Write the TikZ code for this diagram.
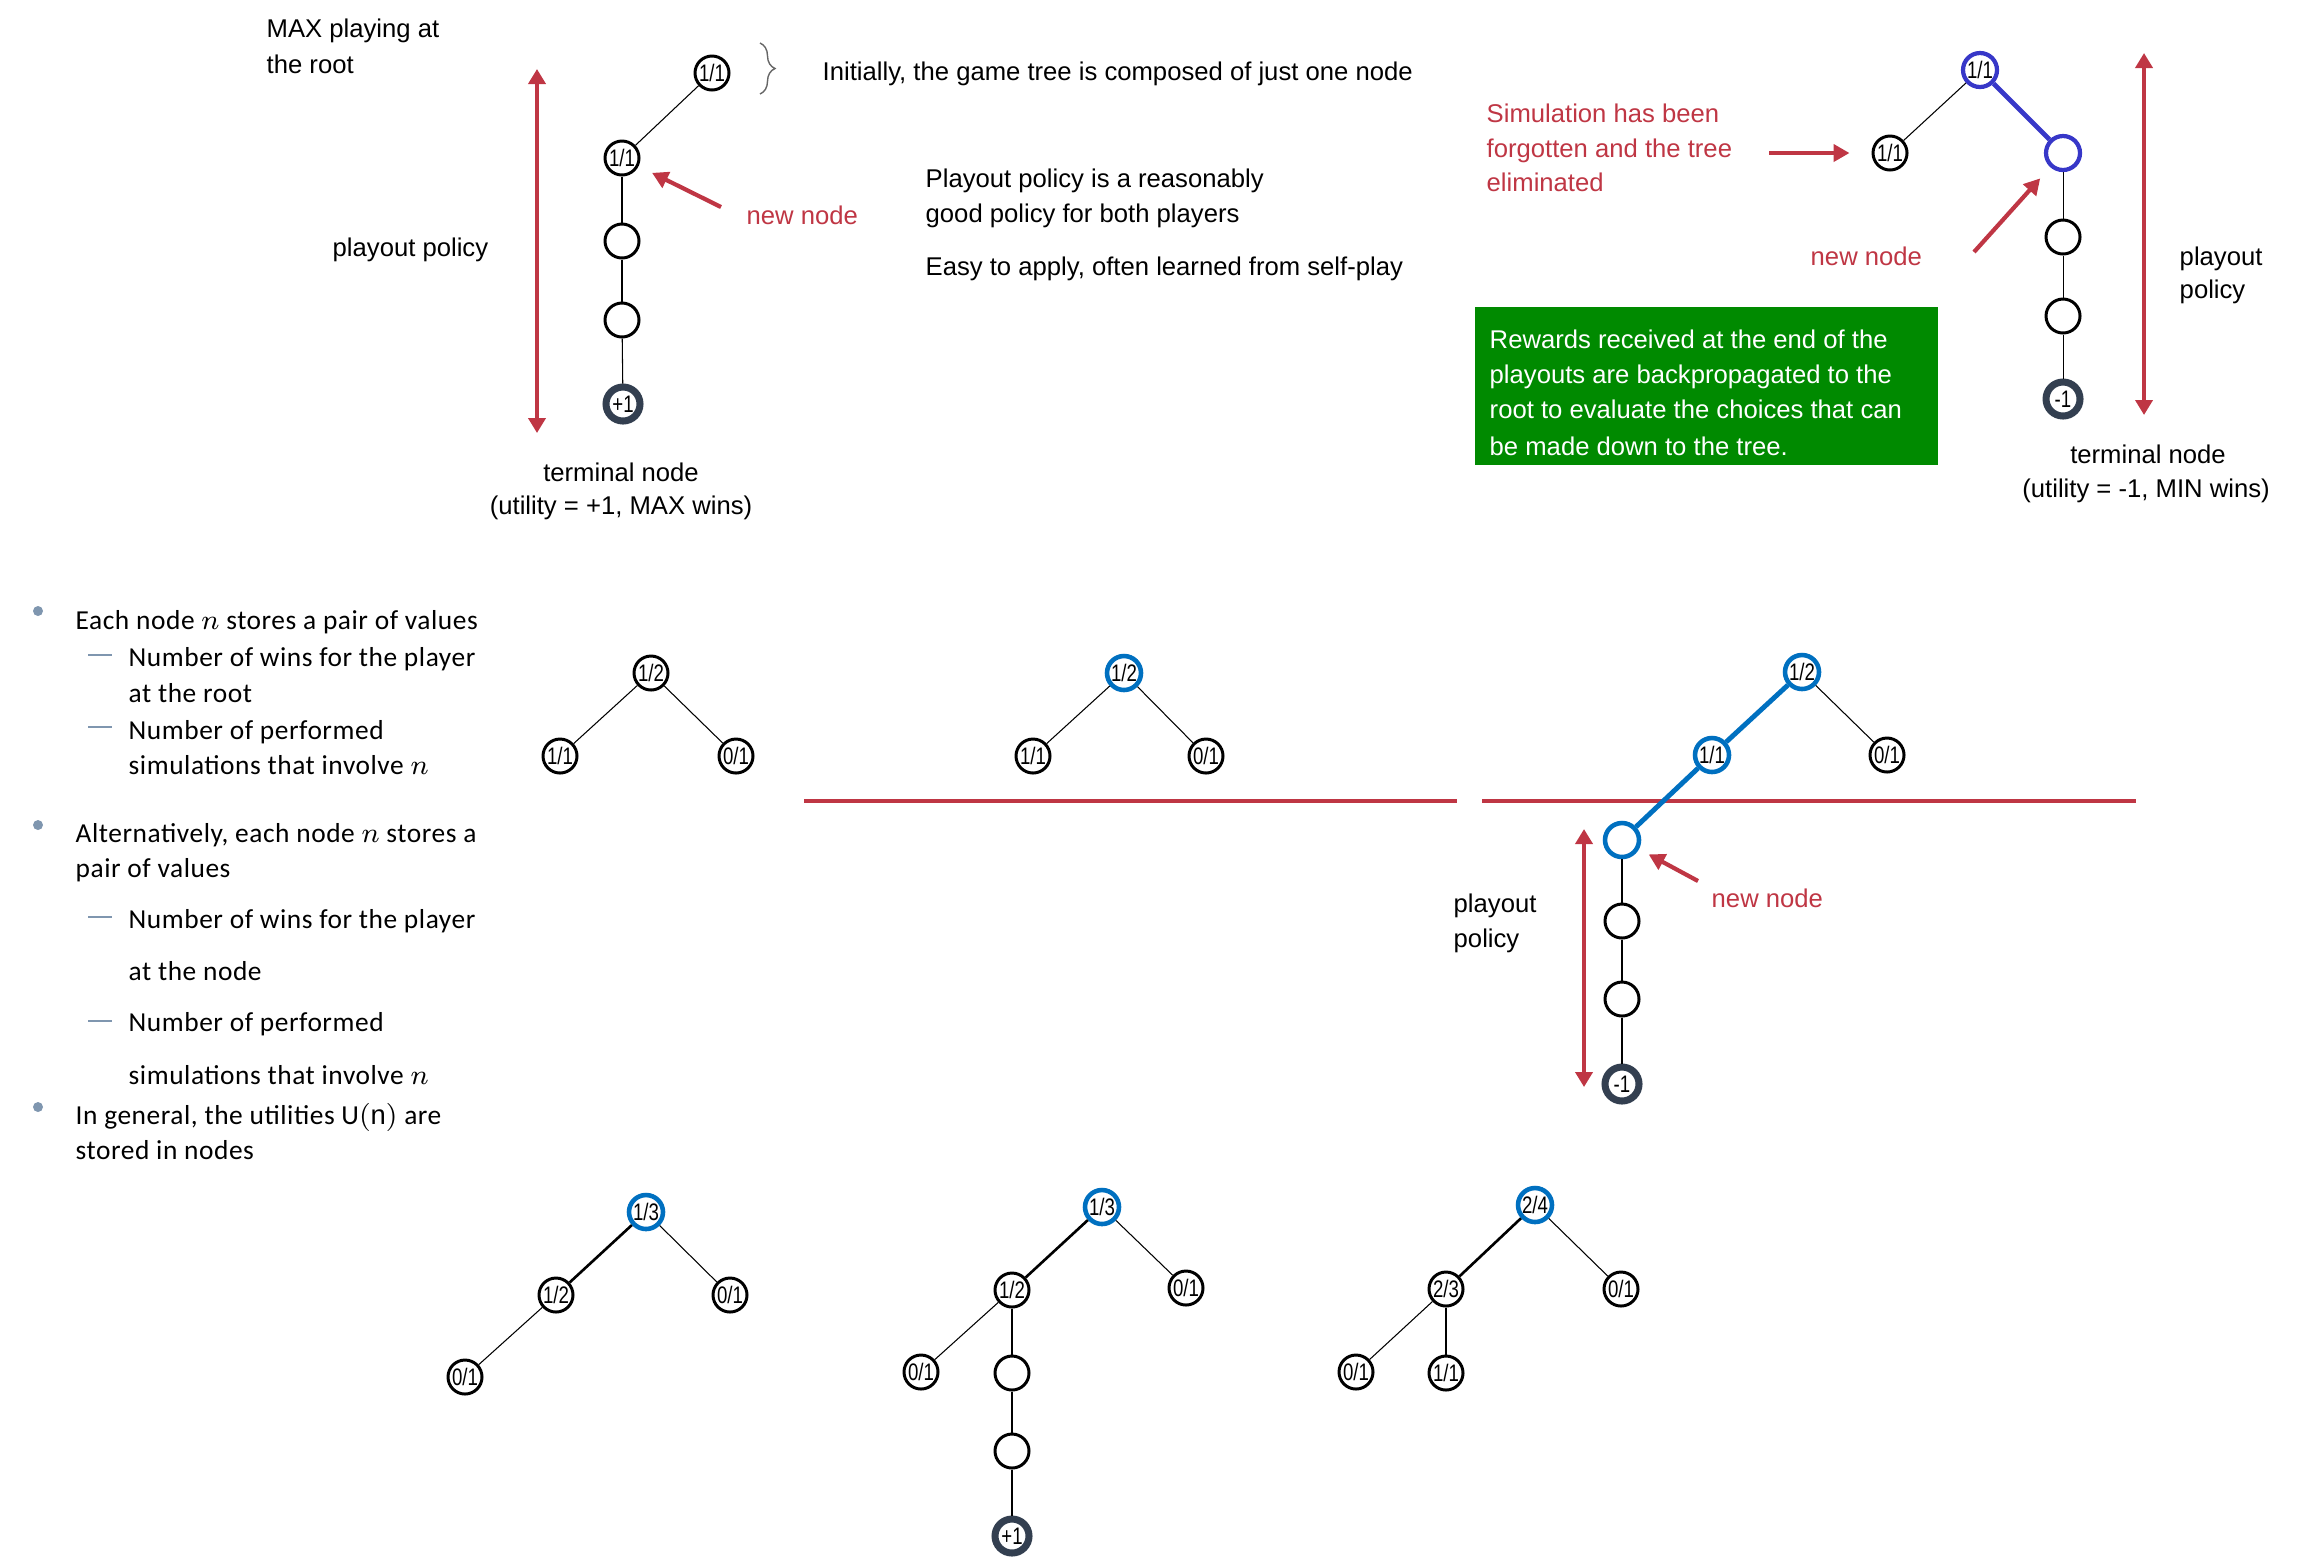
\documentclass[tikz,border=0pt]{standalone}
\usepackage{fontspec}
\setmainfont{Liberation Sans}
\newfontfamily\calfont{Carlito}[LetterSpace=2]
\newfontfamily\nodefont{Liberation Sans}[FakeStretch=0.78]
\usetikzlibrary{arrows.meta,decorations.pathreplacing}
\definecolor{redc}{RGB}{191,54,68}
\definecolor{mblue}{RGB}{0,112,192}
\definecolor{pblue}{RGB}{55,55,200}
\definecolor{termc}{RGB}{51,63,80}
\definecolor{gboxc}{RGB}{0,138,0}
\definecolor{bulc}{RGB}{127,150,175}
\newcommand\fsA{\fontsize{7.3}{10}\selectfont}
\newcommand\fsB{\calfont\fontsize{7.8}{10}\selectfont}
\newcommand\fsN{\nodefont\fontsize{6.8}{6.8}\selectfont}
\begin{document}
\begin{tikzpicture}[x=0.1mm,y=-0.1mm,
  txt/.style={font=\fsA, inner sep=0pt, anchor=base west},
  txtc/.style={font=\fsA, inner sep=0pt, anchor=base},
  redtxt/.style={txt, text=redc},
  wtxt/.style={txt, text=white},
  bul/.style={font=\fsB, inner sep=0pt, anchor=base west},
  tn/.style={circle, draw=black, line width=0.85pt, minimum size=3.4mm, inner sep=0pt, font=\fsN, fill=white},
  bn/.style={tn, draw=mblue, line width=1.3pt},
  pn/.style={tn, draw=pblue, line width=1.2pt},
  term/.style={tn, draw=termc, line width=2pt},
  edge/.style={line width=0.3pt},
  tedge/.style={line width=0.75pt},
  bedge/.style={draw=mblue, line width=1.4pt},
  pedge/.style={draw=pblue, line width=1.4pt},
  dbl/.style={draw=redc, line width=1.4pt, {Triangle[length=1.5mm,width=1.7mm]}-{Triangle[length=1.5mm,width=1.7mm]}},
  rarrow/.style={draw=redc, line width=1.2pt, -{Triangle[length=1.6mm,width=1.7mm]}},
  rline/.style={draw=redc, line width=1.2pt},
  bdot/.style={circle, fill=bulc, inner sep=0pt, minimum size=1mm},
  dashl/.style={draw=bulc, line width=0.7pt},
  brc/.style={draw=black!60, line width=0.4pt, decorate, decoration={brace, amplitude=1.5mm}}
]
\useasboundingbox (0,0) rectangle (2299,1559);

% ---------- top-left tree ----------
\node[tn] (a1) at (712,73) {1/1};
\node[tn] (a2) at (622,158) {1/1};
\node[tn] (a3) at (622,241) {};
\node[tn] (a4) at (622,320) {};
\node[term] (a5) at (623,404) {+1};
\draw[edge] (a1) -- (a2);
\draw[edge] (a2) -- (a3);
\draw[edge] (a3) -- (a4);
\draw[edge] (a4) -- (a5);
\coordinate (pa1) at (537,69);
\coordinate (pa2) at (537,433);
\draw[dbl] (pa1) -- (pa2);
\node[txt] (max1) at (266,37) {MAX playing at};
\node[txt] (max2) at (266,73) {the root};
\node[txt] (pp1) at (332,256) {playout policy};
\node[redtxt] (nn1) at (746,224) {new node};
\coordinate (nna) at (721,207);
\draw[rarrow, shorten >=1.5mm] (nna) -- (a2);
\node[txtc] (tn1a) at (621,481) {terminal node};
\node[txtc] (tn1b) at (621,514) {(utility = +1, MAX wins)};
\coordinate (br1) at (760,43);
\coordinate (br2) at (760,94);
\draw[brc] (br1) -- (br2);
\node[txt] (init) at (822,80) {Initially, the game tree is composed of just one node};
\node[txt] (pl1) at (925,187) {Playout policy is a reasonably};
\node[txt] (pl2) at (925,222) {good policy for both players};
\node[txt] (pl3) at (925,275) {Easy to apply, often learned from self-play};

% ---------- top-right tree ----------
\node[pn] (b1) at (1980,70) {1/1};
\node[tn] (b2) at (1890,153) {1/1};
\node[pn] (b3) at (2063,153) {};
\node[tn] (b4) at (2063,237) {};
\node[tn] (b5) at (2063,316) {};
\node[term] (b6) at (2063,399) {-1};
\draw[edge] (b1) -- (b2);
\draw[pedge] (b1) -- (b3);
\draw[edge] (b3) -- (b4);
\draw[edge] (b4) -- (b5);
\draw[edge] (b5) -- (b6);
\coordinate (pb1) at (2144,53);
\coordinate (pb2) at (2144,415);
\draw[dbl] (pb1) -- (pb2);
\node[redtxt] (sim1) at (1486,122) {Simulation has been};
\node[redtxt] (sim2) at (1486,157) {forgotten and the tree};
\node[redtxt] (sim3) at (1486,191) {eliminated};
\coordinate (sima) at (1769,153);
\draw[rarrow, shorten >=2.2mm] (sima) -- (b2);
\node[redtxt] (nn2) at (1810,265) {new node};
\coordinate (nnb) at (1974,252);
\draw[rarrow, shorten >=1.5mm] (nnb) -- (b3);
\node[txt] (pp2a) at (2179,265) {playout};
\node[txt] (pp2b) at (2179,298) {policy};
\node[txtc] (tn2a) at (2148,463) {terminal node};
\node[txtc] (tn2b) at (2146,497) {(utility = -1, MIN wins)};
\node[fill=gboxc, minimum width=46.3mm, minimum height=15.8mm, inner sep=0pt, anchor=north west] (gbox) at (1474,306) {};
\node[wtxt] (g1) at (1489,348) {Rewards received at the end of the};
\node[wtxt] (g2) at (1489,383) {playouts are backpropagated to the};
\node[wtxt] (g3) at (1489,418) {root to evaluate the choices that can};
\node[wtxt] (g4) at (1489,455) {be made down to the tree.};

% ---------- bullets ----------
\node[bdot] (d1) at (38,611) {};
\node[bdot] (d2) at (38,825) {};
\node[bdot] (d3) at (38,1107) {};
\draw[dashl] (88,655) -- (112,655);
\draw[dashl] (88,727) -- (112,727);
\draw[dashl] (88,917) -- (112,917);
\draw[dashl] (88,1021) -- (112,1021);
\node[bul] (l1) at (75,629) {Each node $n$ stores a pair of values};
\node[bul] (l2) at (128,666) {Number of wins for the player};
\node[bul] (l3) at (128,702) {at the root};
\node[bul] (l4) at (128,739) {Number of performed};
\node[bul] (l5) at (128,774) {simulations that involve $n$};
\node[bul] (l6) at (75,842) {Alternatively, each node $n$ stores a};
\node[bul] (l7) at (75,877) {pair of values};
\node[bul] (l8) at (128,928) {Number of wins for the player};
\node[bul] (l9) at (128,980) {at the node};
\node[bul] (l10) at (128,1031) {Number of performed};
\node[bul] (l11) at (128,1084) {simulations that involve $n$};
\node[bul] (l12) at (75,1124) {In general, the utilities U$(\mathrm{n})$ are};
\node[bul] (l13) at (75,1159) {stored in nodes};

% ---------- middle trees ----------
\node[tn] (c1) at (651,673) {1/2};
\node[tn] (c2) at (560,756) {1/1};
\node[tn] (c3) at (736,756) {0/1};
\draw[edge] (c1) -- (c2);
\draw[edge] (c1) -- (c3);

\node[bn] (e1) at (1124,673) {1/2};
\node[tn] (e2) at (1033,756) {1/1};
\node[tn] (e3) at (1206,756) {0/1};
\draw[edge] (e1) -- (e2);
\draw[edge] (e1) -- (e3);

\coordinate (rl1a) at (804,801);
\coordinate (rl1b) at (1457,801);
\coordinate (rl2a) at (1482,801);
\coordinate (rl2b) at (2136,801);
\draw[rline] (rl1a) -- (rl1b);
\draw[rline] (rl2a) -- (rl2b);

\node[bn] (m1) at (1802,672) {1/2};
\node[bn] (m2) at (1712,755) {1/1};
\node[tn] (m3) at (1887,755) {0/1};
\node[bn] (m4) at (1622,840) {};
\node[tn] (m5) at (1622,921) {};
\node[tn] (m6) at (1622,999) {};
\node[term] (m7) at (1622,1084) {-1};
\draw[bedge] (m1) -- (m2);
\draw[edge] (m1) -- (m3);
\draw[bedge] (m2) -- (m4);
\draw[edge] (m4) -- (m5);
\draw[edge] (m5) -- (m6);
\draw[edge] (m6) -- (m7);
\coordinate (pc1) at (1584,829);
\coordinate (pc2) at (1584,1087);
\draw[dbl] (pc1) -- (pc2);
\node[txt] (pp3a) at (1453,912) {playout};
\node[txt] (pp3b) at (1453,947) {policy};
\node[redtxt] (nn3) at (1711,907) {new node};
\coordinate (nnc) at (1698,881);
\draw[rarrow, shorten >=1.1mm] (nnc) -- (m4);

% ---------- bottom trees ----------
\node[bn] (f1) at (646,1212) {1/3};
\node[tn] (f2) at (556,1295) {1/2};
\node[tn] (f3) at (730,1295) {0/1};
\node[tn] (f4) at (465,1377) {0/1};
\draw[tedge] (f1) -- (f2);
\draw[edge] (f1) -- (f3);
\draw[edge] (f2) -- (f4);

\node[bn] (h1) at (1102,1207) {1/3};
\node[tn] (h2) at (1012,1290) {1/2};
\node[tn] (h3) at (1186,1288) {0/1};
\node[tn] (h4) at (921,1372) {0/1};
\node[tn] (h5) at (1012,1373) {};
\node[tn] (h6) at (1012,1451) {};
\node[term] (h7) at (1012,1536) {+1};
\draw[tedge] (h1) -- (h2);
\draw[edge] (h1) -- (h3);
\draw[edge] (h2) -- (h4);
\draw[edge] (h2) -- (h5);
\draw[edge] (h5) -- (h6);
\draw[edge] (h6) -- (h7);

\node[bn] (k1) at (1535,1205) {2/4};
\node[tn] (k2) at (1446,1289) {2/3};
\node[tn] (k3) at (1621,1289) {0/1};
\node[tn] (k4) at (1356,1372) {0/1};
\node[tn] (k5) at (1446,1373) {1/1};
\draw[tedge] (k1) -- (k2);
\draw[edge] (k1) -- (k3);
\draw[edge] (k2) -- (k4);
\draw[edge] (k2) -- (k5);
\end{tikzpicture}
\end{document}
